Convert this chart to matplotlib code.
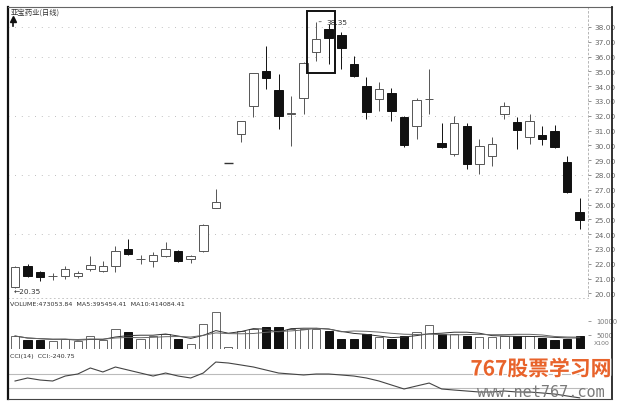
import matplotlib
matplotlib.use("Agg")
import matplotlib.pyplot as plt
from matplotlib.patches import Rectangle
import matplotlib.patheffects as pe
import numpy as np
import pandas as pd

# ---------------- data ----------------
title = "亚宝药业(日线)"
opens = [20.45, 21.85, 21.45, 21.15, 21.18, 21.18, 21.65, 21.51, 21.85, 23.00,
         22.30, 22.19, 22.53, 22.86, 22.32, 22.86, 25.77, 28.81, 30.77, 32.66,
         35.03, 33.74, 32.15, 33.20, 36.31, 37.86, 37.46, 35.50, 34.01, 33.14,
         33.54, 31.92, 31.31, 33.10, 30.16, 29.42, 31.31, 28.74, 29.28, 32.12,
         31.58, 30.57, 30.70, 30.97, 28.88, 25.50]
closes = [21.75, 21.18, 21.11, 21.20, 21.65, 21.38, 21.92, 21.85, 22.86, 22.66,
          22.35, 22.59, 23.00, 22.19, 22.53, 24.62, 26.18, 28.81, 31.65, 34.89,
          34.55, 31.99, 32.20, 35.57, 37.19, 37.26, 36.58, 34.69, 32.26, 33.81,
          32.32, 30.03, 33.07, 33.14, 29.89, 31.51, 28.74, 29.96, 30.10, 32.66,
          31.04, 31.65, 30.43, 29.89, 26.85, 24.96]
highs = [21.85, 21.99, 21.50, 21.38, 21.85, 21.50, 22.53, 22.19, 23.20, 23.68,
         22.59, 22.80, 23.47, 22.90, 22.59, 24.69, 27.05, 28.81, 31.65, 34.89,
         36.72, 34.82, 33.34, 35.64, 38.35, 38.20, 37.66, 36.04, 34.62, 34.28,
         33.88, 32.00, 33.20, 35.16, 31.51, 31.99, 31.51, 30.43, 30.57, 32.93,
         31.92, 32.12, 31.31, 31.38, 29.28, 26.45]
lows = [20.35, 21.10, 20.84, 20.91, 20.97, 21.05, 21.51, 21.45, 21.45, 22.59,
        21.99, 21.78, 22.45, 22.12, 22.05, 22.80, 25.77, 28.81, 30.23, 31.92,
        33.81, 31.11, 29.96, 32.12, 35.70, 35.50, 35.16, 34.60, 31.78, 32.32,
        31.65, 29.90, 30.43, 32.12, 29.85, 29.28, 28.41, 28.07, 28.61, 31.78,
        29.76, 30.10, 30.00, 29.85, 26.80, 24.35]
volumes = [4640, 3210, 3210, 2860, 3570, 2860, 4640, 3210, 7140, 6070,
           3570, 4640, 5360, 3570, 1790, 8930, 13210, 710, 6430, 7140,
           7850, 7850, 7140, 7140, 7140, 6430, 3570, 3570, 5360, 4280,
           3570, 4640, 6070, 8570, 5360, 5360, 4640, 4280, 4280, 4640,
           4640, 4600, 3800, 3100, 3600, 4730]
cci = [0, 43, 14, 0, 71, 100, 186, 129, 200, 157,
       114, 71, 114, 71, 43, 114, 271, 257, 229, 200,
       157, 114, 100, 86, 100, 100, 86, 71, 43, 0,
       -57, -114, -71, -29, -114, -129, -143, -157, -157, -143,
       -157, -157, -171, -186, -214, -240.75]
price_ticks = list(range(20, 39))
grid_prices = [38, 36, 32, 28, 24]
vol_ticks = [5000, 10000]
cci_levels = [100, -100]
vol_header = "VOLUME:473053.84  MA5:395454.41  MA10:414084.41"
cci_header = "CCI(14)  CCI:-240.75"
low_label = "←20.35"
high_label = "38.35"

# ---------------- figure ----------------
W, H = 620, 406
fig = plt.figure(figsize=(6.2, 4.06), dpi=100)
fig.patch.set_facecolor("white")


def rect(x0, y0, x1, y1):
    return [x0 / W, 1 - y1 / H, (x1 - x0) / W, (y1 - y0) / H]


n = len(opens)
idx = np.arange(n)
xlim = (-0.56, 45.66)

ax_p = fig.add_axes(rect(8, 8, 588, 297))
ax_v = fig.add_axes(rect(8, 299, 588, 350))
ax_c = fig.add_axes(rect(8, 352, 588, 400))
for a in (ax_p, ax_v, ax_c):
    a.set_facecolor("none")
    a.set_xlim(*xlim)
    a.set_xticks([])
    for s in a.spines.values():
        s.set_visible(False)

# price panel
ax_p.set_ylim(19.82, 39.35)
for gp in grid_prices:
    ax_p.axhline(gp, color="#aaaaaa", lw=0.6, ls=(0, (1, 7)), zorder=1)
bw = 0.68
for i in idx:
    o, h, l, c = opens[i], highs[i], lows[i], closes[i]
    up = c >= o
    col = "#555555" if up else "#111111"
    ax_p.vlines(i, l, h, color=col, lw=0.7, zorder=2)
    if abs(c - o) < 0.02:
        ax_p.hlines(o, i - bw / 2, i + bw / 2, color="#333333", lw=1.0, zorder=3)
    else:
        ax_p.add_patch(Rectangle((i - bw / 2, min(o, c)), bw, abs(c - o),
                                 facecolor="white" if up else "#111111",
                                 edgecolor=col, lw=0.7, zorder=3))
ax_p.yaxis.tick_right()
ax_p.set_yticks(price_ticks)
ax_p.set_yticklabels([f"{p:.2f}" for p in price_ticks])
ax_p.tick_params(axis="y", length=2, width=0.5, pad=2.5, labelsize=5.3,
                 colors="#666666")
ax_p.spines["right"].set_visible(True)
ax_p.spines["right"].set_linestyle((0, (2, 3)))
ax_p.spines["right"].set_color("#aaaaaa")
ax_p.spines["right"].set_linewidth(0.6)

# annotations
imax = int(np.argmax(highs))
imin = int(np.argmin(lows))
ax_p.annotate(high_label, xy=(imax, highs[imax]),
              xytext=(imax + 0.85, highs[imax] + 0.02),
              fontsize=5.3, color="#333333", va="center", ha="left",
              arrowprops=dict(arrowstyle="-", lw=0.5, color="#444444"))
ax_p.text(imin - 0.1, lows[imin] - 0.17, low_label, fontsize=5.3,
          color="#333333", va="center", ha="left")
box_lo = min(lows[imax:imax + 2]) - 0.6
box_hi = max(highs[imax:imax + 2]) + 0.7
ax_p.add_patch(Rectangle((imax - 0.73, box_lo), 2.23, box_hi - box_lo,
                         facecolor="none", edgecolor="#111111", lw=1.4, zorder=5))

# volume panel
ax_v.set_ylim(0, 18214)
vcol_face = ["white" if closes[i] >= opens[i] else "#111111" for i in idx]
vcol_edge = ["#666666" if closes[i] >= opens[i] else "#111111" for i in idx]
ax_v.bar(idx, volumes, width=0.66, color=vcol_face, edgecolor=vcol_edge,
         linewidth=0.7, zorder=2)
vs = pd.Series(volumes, dtype=float)
ax_v.plot(idx, vs.rolling(5, min_periods=1).mean(), color="#333333", lw=0.7, zorder=3)
ax_v.plot(idx, vs.rolling(10, min_periods=1).mean(), color="#666666", lw=0.7, zorder=3)
ax_v.yaxis.tick_right()
ax_v.set_yticks(vol_ticks)
ax_v.set_yticklabels([str(v) for v in vol_ticks])
ax_v.tick_params(axis="y", length=2, width=0.5, pad=4, labelsize=4.8,
                 colors="#777777")
ax_v.spines["top"].set_visible(True)
ax_v.spines["top"].set_linestyle((0, (1, 4)))
ax_v.spines["top"].set_color("#bbbbbb")
ax_v.spines["top"].set_linewidth(0.6)

# CCI panel
ax_c.set_ylim(-257, 428.6)
ax_c.set_yticks([])
for lv in cci_levels:
    ax_c.axhline(lv, color="#bbbbbb", lw=0.8, zorder=1)
ax_c.plot(idx, cci, color="#444444", lw=0.8, zorder=2)

# overlay: frame, headers, watermark
ov = fig.add_axes([0, 0, 1, 1])
ov.set_xlim(0, W)
ov.set_ylim(H, 0)
ov.axis("off")
ov.set_facecolor("none")
ov.plot([8, 8], [8, 400], color="#111111", lw=1.6)
ov.plot([8, 612], [7.5, 7.5], color="#666666", lw=0.8)
ov.plot([612, 612], [8, 400], color="#222222", lw=1.3)
ov.plot([8, 612], [400, 400], color="#444444", lw=0.8)
ov.text(11, 12.5, title, fontsize=5.3, family=["Noto Sans CJK SC", "DejaVu Sans"],
        color="#333333", va="center", ha="left")
ov.plot([12.5], [20], marker="^", color="#111111", markersize=4.5)
ov.plot([12.5, 12.5], [20, 27], color="#111111", lw=1.2)
ov.text(10, 305, vol_header, fontsize=4.6, color="#333333", va="center", ha="left")
ov.text(10, 357, cci_header, fontsize=4.6, color="#333333", va="center", ha="left")
ov.text(594, 344, "X100", fontsize=4.4, color="#777777", va="center", ha="left")
ov.text(541, 370, "767股票学习网", fontsize=15, fontweight="bold",
        family=["Noto Sans CJK SC", "DejaVu Sans"], color="#e8632b",
        va="center", ha="center",
        path_effects=[pe.withStroke(linewidth=2, foreground="white")])
ov.text(541, 393, "www.net767.com", fontsize=11, family="DejaVu Sans Mono",
        color="#7a7a7a", va="center", ha="center")

fig.savefig("out.png", dpi=100, facecolor="white")
